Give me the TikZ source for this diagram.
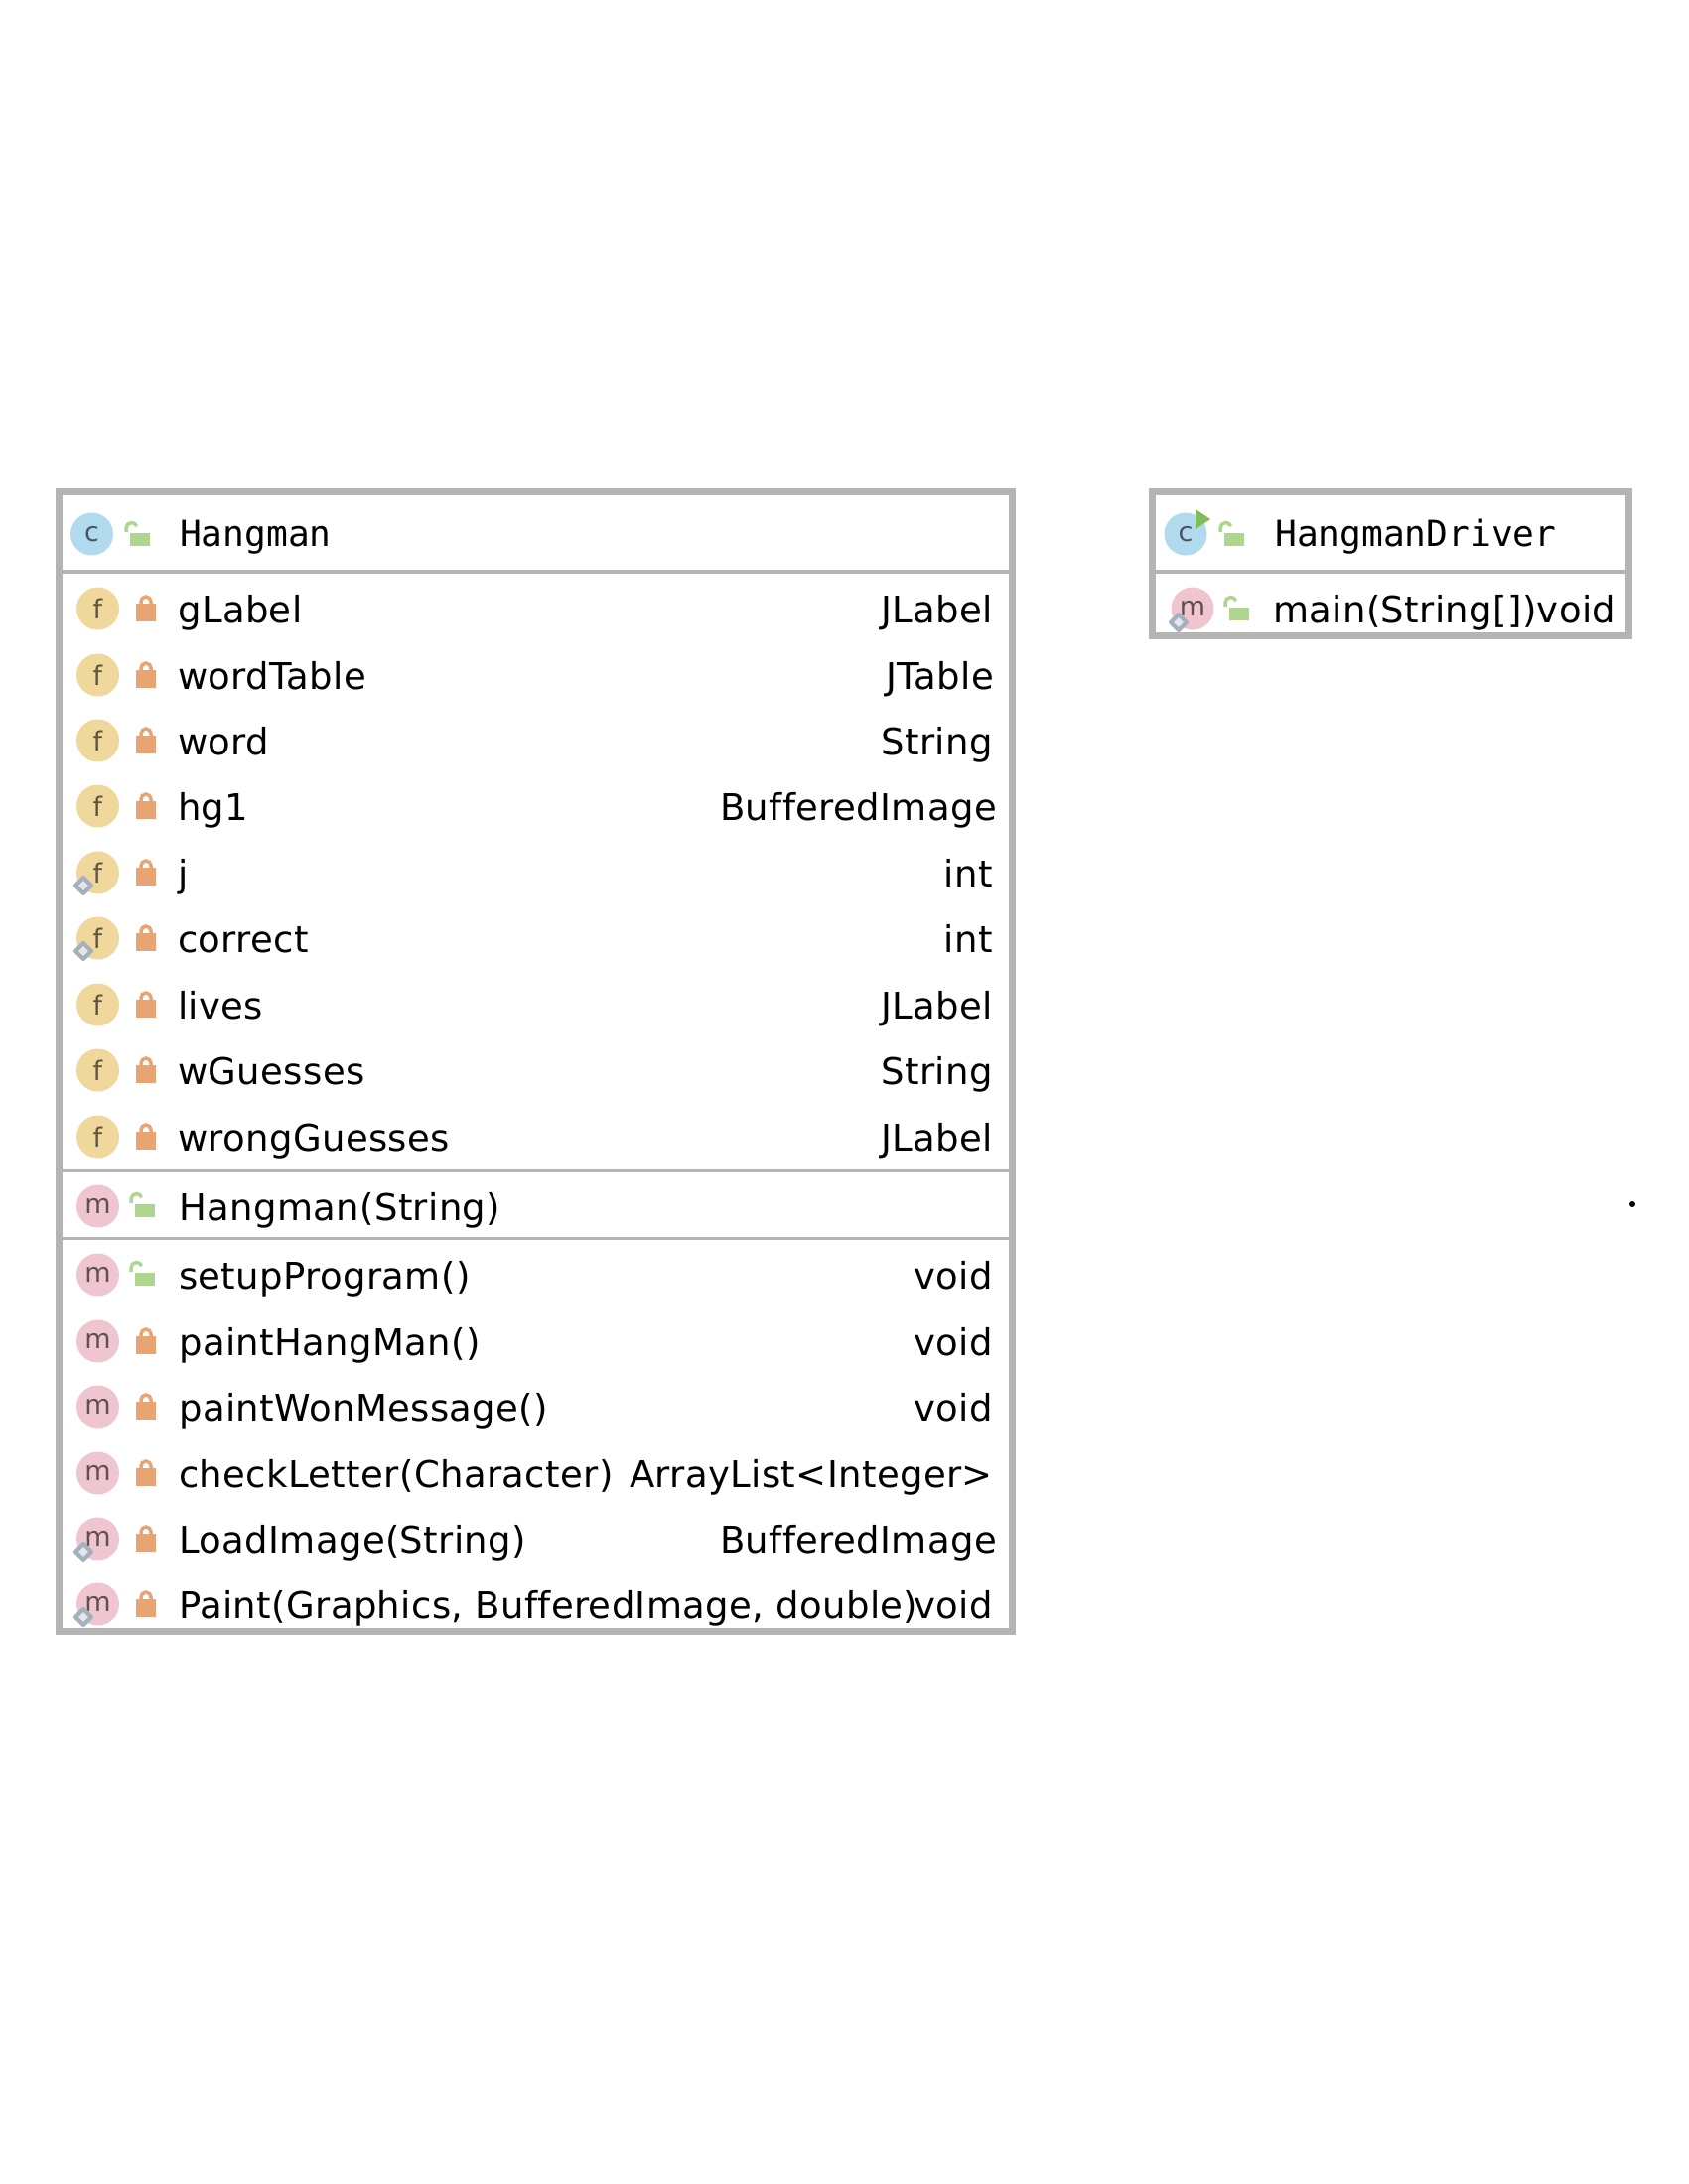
\documentclass[tikz,border=0pt]{standalone}
\usepackage{fontspec}
\setmainfont[LetterSpace=1,Ligatures=NoCommon]{DejaVu Sans}
\setmonofont{DejaVu Sans Mono}
\usepackage{tikz}
\usepackage{xcolor}
\definecolor{framegray}{HTML}{B4B4B4}
\definecolor{classblue}{HTML}{B2DAEF}
\definecolor{fieldyellow}{HTML}{F0D79B}
\definecolor{methodpink}{HTML}{EFC5CF}
\definecolor{lockorange}{HTML}{E8A573}
\definecolor{lockgreen}{HTML}{AED68F}
\definecolor{gearblue}{HTML}{A6AFBC}
\definecolor{rungreen}{HTML}{7DBE5A}
\tikzset{
  rowtext/.style={inner sep=0,font=\fontsize{37}{40}\selectfont},
  rowname/.style={rowtext,anchor=base west},
  rowtype/.style={rowtext,anchor=base east},
  headtext/.style={rowname,font=\fontsize{36.2}{40}\ttfamily},
  iconbase/.style={circle,inner sep=0,minimum size=43,font=\fontsize{27}{27}\selectfont},
  classicon/.style={iconbase,fill=classblue,text=black!60!classblue},
  fieldicon/.style={iconbase,fill=fieldyellow,text=black!60!fieldyellow},
  methodicon/.style={iconbase,fill=methodpink,text=black!60!methodpink},
  framebox/.style={draw=framegray,line width=7},
  sepline/.style={draw=framegray,line width=3.5},
  pics/closedlock/.style={code={
    \draw[lockorange,line width=3.5] (-5,-5) -- (-5,-7) arc (180:360:5) -- (5,-5);
    \fill[lockorange] (-10,-5) rectangle (10,13);
  }},
  pics/openlock/.style={code={
    \draw[lockgreen,line width=3.5] (-14,-3) -- (-14,-7) arc (180:340:5.5);
    \fill[lockgreen] (-10,-2) rectangle (10,11);
  }},
  pics/gear/.style={code={
    \draw[gearblue,fill=white!70!gearblue,line width=4,line join=round] (-8,0) -- (0,-8) -- (8,0) -- (0,8) -- cycle;
  }},
}
\begin{document}
\begin{tikzpicture}[x=1pt,y=-1pt]
  \useasboundingbox (0,0) rectangle (1700,2200);
  % Hangman header
  \node[classicon] (hangmanIcon) at (92.5,538) {c};
  \pic at (141,539) {openlock};
  \node[headtext] (hangmanName) at (181,550) {Hangman};
  % Fields
  \foreach \rowy/\rowlabel/\rowtype/\typex/\hasgear [count=\i] in {
    613/gLabel/JLabel/1000/0,680/wordTable/JTable/1001/0,746/word/String/1000/0,
    812/hg1/BufferedImage/1004/0,879/j/int/1000/1,945/correct/int/1000/1,
    1012/lives/JLabel/1000/0,1078/wGuesses/String/1000/0,1145/wrongGuesses/JLabel/1000/0} {
    \node[fieldicon] (fieldIcon\i) at (98.5,\rowy) {f};
    \ifnum\hasgear=1 \pic at (84,\rowy+13) {gear}; \fi
    \pic at (147,\rowy) {closedlock};
    \node[rowname] (fieldName\i) at (179,\rowy+14) {\rowlabel};
    \node[rowtype] (fieldType\i) at (\typex,\rowy+14) {\rowtype};
  }
  % Constructor
  \node[methodicon] (ctorIcon) at (98.5,1215) {m};
  \pic at (146,1215) {openlock};
  \node[rowname] (ctorName) at (180,1229) {Hangman(String)};
  % Methods
  \node[methodicon] (setupIcon) at (98.5,1284) {m};
  \pic at (146,1284) {openlock};
  \node[rowname] (setupName) at (180,1298) {setupProgram()};
  \node[rowtype] (setupType) at (1000,1298) {void};
  \foreach \rowy/\rowlabel/\rowtype/\typex/\hasgear [count=\i] in {
    1351/paintHangMan()/void/1000/0,1417/paintWonMessage()/void/1000/0,
    1484/checkLetter(Character)/ArrayList<Integer>/1000/0,
    1550/LoadImage(String)/BufferedImage/1004/1,
    1616/{Paint(Graphics, BufferedImage, double)}/void/1000/1} {
    \node[methodicon] (methodIcon\i) at (98.5,\rowy) {m};
    \ifnum\hasgear=1 \pic at (84,\rowy+13) {gear}; \fi
    \pic at (147,\rowy) {closedlock};
    \node[rowname] (methodName\i) at (180,\rowy+14) {\rowlabel};
    \node[rowtype] (methodType\i) at (\typex,\rowy+14) {\rowtype};
  }
  % Hangman frame
  \draw[framebox] (59.5,495.5) rectangle (1019.5,1643.5);
  \draw[sepline] (63,576) -- (1016,576);
  \draw[sepline] (63,1179.5) -- (1016,1179.5);
  \draw[sepline] (63,1247.5) -- (1016,1247.5);
  % HangmanDriver
  \node[classicon] (driverIcon) at (1194,538) {c};
  \fill[rungreen] (1204,513) -- (1219,523) -- (1204,533) -- cycle;
  \pic at (1243,539) {openlock};
  \node[headtext] (driverName) at (1284,550) {HangmanDriver};
  \node[methodicon] (mainIcon) at (1201,613) {m};
  \pic at (1187,627) {gear};
  \pic at (1248,614) {openlock};
  \node[rowname] (mainName) at (1282,627) {main(String[])void};
  % HangmanDriver frame
  \draw[framebox] (1160.5,495.5) rectangle (1640.5,640.5);
  \draw[sepline] (1164,576) -- (1637,576);
  % Stray dot
  \fill[black] (1644,1213) circle (3);
\end{tikzpicture}
\end{document}
